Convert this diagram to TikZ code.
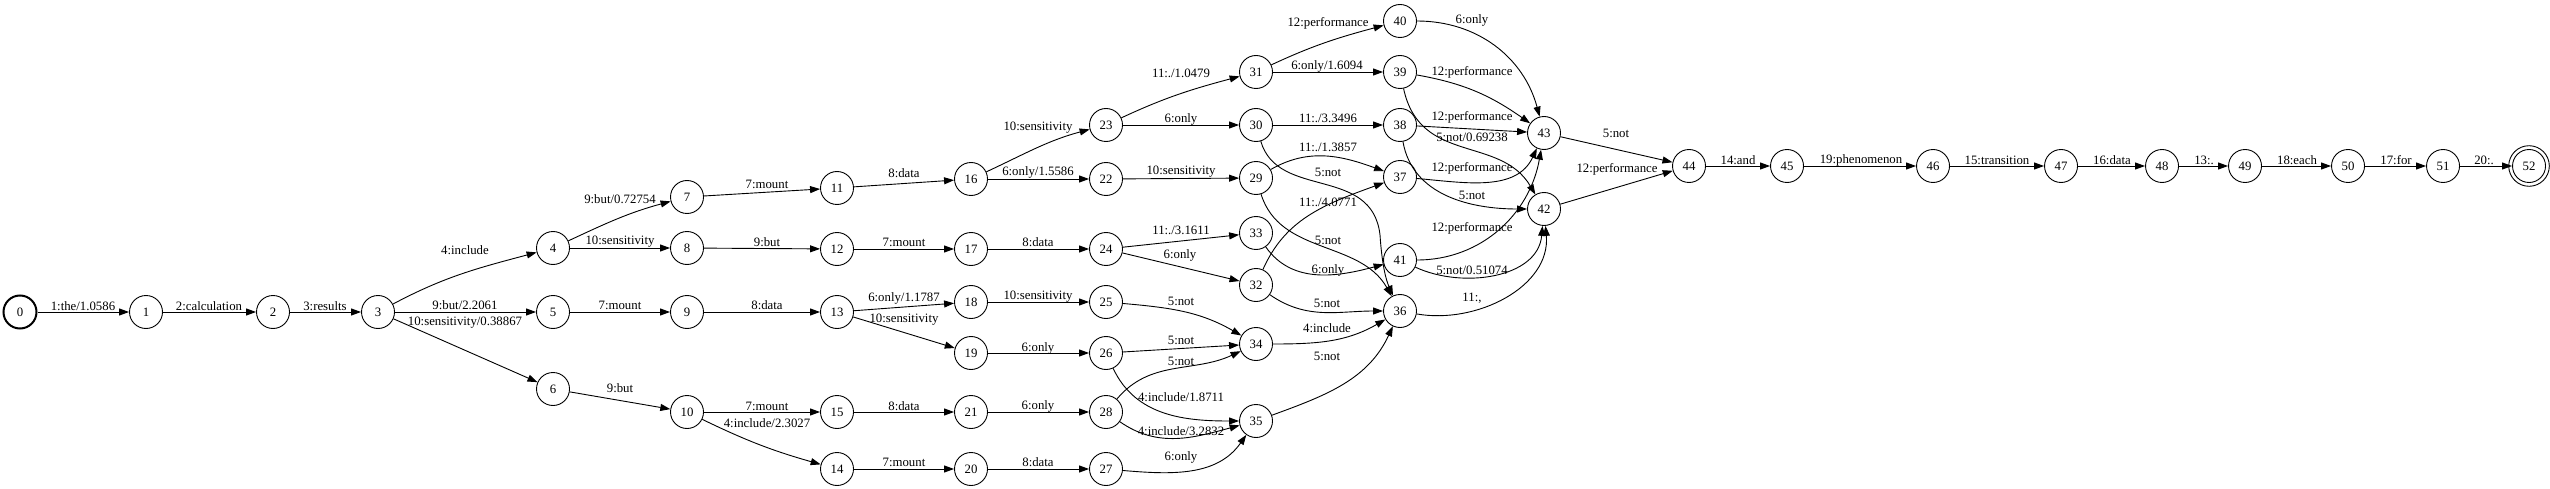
\documentclass[tikz,border=0pt]{standalone}
\usepackage{fontspec}
\setmainfont{Liberation Serif}
\usetikzlibrary{arrows.meta}
\begin{document}
\begin{tikzpicture}[x=1pt,y=-1pt,
 st/.style={circle,draw,line width=0.9pt,minimum size=33pt,inner sep=0pt,font=\fontsize{12.8}{14}\selectfont},
 lbl/.style={inner sep=0pt,font=\fontsize{12.8}{14}\selectfont},
 e/.style={line width=0.9pt,-{Triangle[length=10pt,width=7pt]}}]
\useasboundingbox (0,0) rectangle (2550,489);
% states
\node[st,line width=2pt] (n0) at (20,312) {0};
\foreach \n/\x/\y in {1/146/312,2/273/312,3/378/312,4/553/248,5/553/312,6/553/389,
 7/687/197,8/687/248,9/687/312,10/687/412,11/837/188,12/837/249,13/837/312,14/837/469,15/837/412,
 16/971/179,17/971/249,18/971/302,19/971/353,20/971/469,21/971/412,
 22/1106/179,23/1106/125,24/1106/249,25/1106/302,26/1106/353,27/1106/469,28/1106/412,
 29/1256/178,30/1256/125,31/1256/72,32/1256/285,33/1256/233,34/1256/344,35/1256/421,
 36/1400/311,37/1400/177,38/1400/125,39/1400/72,40/1400/21,41/1400/260,
 42/1544/209,43/1544/133,44/1689/166,45/1787/166,46/1933/166,47/2061/166,48/2162/166,
 49/2245/166,50/2348/166,51/2443/166}
 {\node[st] (n\n) at (\x,\y) {\n};}
\node[st] (n52) at (2529,166) {52};
\draw[line width=0.9pt] (n52.center) circle (20.3);
\coordinate (m30) at (1380,235);
% edges
\draw[e] (n0) -- (n1); \node[lbl] (l1) at (83,306) {1:the/1.0586};
\draw[e] (n1) -- (n2); \node[lbl] (l2) at (209,306) {2:calculation};
\draw[e] (n2) -- (n3); \node[lbl] (l3) at (325,306) {3:results};
\draw[e] (n3) to[out=28,in=195] (n4); \node[lbl] (l4) at (465,250) {4:include};
\draw[e] (n3) -- (n5); \node[lbl] (l5) at (465,305) {9:but/2.2061};
\draw[e] (n3) -- (n6); \node[lbl] (l6) at (465,323) {10:sensitivity/0.38867};
\draw[e] (n4) to[out=25,in=195] (n7); \node[lbl] (l7) at (620,199) {9:but/0.72754};
\draw[e] (n4) -- (n8); \node[lbl] (l8) at (620,242) {10:sensitivity};
\draw[e] (n7) -- (n11); \node[lbl] (l9) at (767,184) {7:mount};
\draw[e] (n8) -- (n12); \node[lbl] (l10) at (767,242) {9:but};
\draw[e] (n5) -- (n9); \node[lbl] (l11) at (620,305) {7:mount};
\draw[e] (n9) -- (n13); \node[lbl] (l12) at (767,305) {8:data};
\draw[e] (n6) -- (n10); \node[lbl] (l13) at (620,388) {9:but};
\draw[e] (n10) -- (n15); \node[lbl] (l14) at (767,406) {7:mount};
\draw[e] (n10) to[bend right=5] (n14); \node[lbl] (l15) at (767,423) {4:include/2.3027};
\draw[e] (n11) -- (n16); \node[lbl] (l16) at (904,173) {8:data};
\draw[e] (n16) to[out=25,in=195] (n23); \node[lbl] (l17) at (1038,128) {10:sensitivity};
\draw[e] (n16) -- (n22); \node[lbl] (l18) at (1038,172) {6:only/1.5586};
\draw[e] (n23) to[out=25,in=195] (n31); \node[lbl] (l19) at (1181,73) {11:./1.0479};
\draw[e] (n23) -- (n30); \node[lbl] (l20) at (1181,119) {6:only};
\draw[e] (n22) -- (n29); \node[lbl] (l21) at (1181,172) {10:sensitivity};
\draw[e] (n12) -- (n17); \node[lbl] (l22) at (904,242) {7:mount};
\draw[e] (n17) -- (n24); \node[lbl] (l23) at (1038,242) {8:data};
\draw[e] (n24) -- (n33); \node[lbl] (l24) at (1181,230) {11:./3.1611};
\draw[e] (n24) -- (n32); \node[lbl] (l25) at (1180,255) {6:only};
\draw[e] (n13) -- (n18); \node[lbl] (l26) at (904,298) {6:only/1.1787};
\draw[e] (n13) -- (n19); \node[lbl] (l27) at (904,320) {10:sensitivity};
\draw[e] (n18) -- (n25); \node[lbl] (l28) at (1038,297) {10:sensitivity};
\draw[e] (n19) -- (n26); \node[lbl] (l29) at (1038,348) {6:only};
\draw[e] (n15) -- (n21); \node[lbl] (l30) at (904,406) {8:data};
\draw[e] (n21) -- (n28); \node[lbl] (l31) at (1038,406) {6:only};
\draw[e] (n14) -- (n20); \node[lbl] (l32) at (904,462) {7:mount};
\draw[e] (n20) -- (n27); \node[lbl] (l33) at (1038,462) {8:data};
\draw[e] (n25) to[out=-5,in=150] (n34); \node[lbl] (l34) at (1181,301) {5:not};
\draw[e] (n26) -- (n34); \node[lbl] (l35) at (1181,340) {5:not};
\draw[e] (n28) to[out=50,in=205] (n34); \node[lbl] (l36) at (1181,361) {5:not};
\draw[e] (n26) to[out=-65,in=180] (n35); \node[lbl] (l37) at (1181,397) {4:include/1.8711};
\draw[e] (n28) to[out=-35,in=195] (n35); \node[lbl] (l38) at (1181,431) {4:include/3.2832};
\draw[e] (n27) to[out=-5,in=235] (n35); \node[lbl] (l39) at (1181,457) {6:only};
\draw[e] (n31) to[out=25,in=195] (n40); \node[lbl] (l40) at (1328,23) {12:performance};
\draw[e] (n31) -- (n39); \node[lbl] (l41) at (1327,66) {6:only/1.6094};
\draw[e] (n30) -- (n38); \node[lbl] (l42) at (1328,118) {11:./3.3496};
\draw[e] (n29) to[out=30,in=160] (n37); \node[lbl] (l43) at (1328,147) {11:./1.3857};
\draw[e] (n30) .. controls (1278,200) and (1372,165) .. (m30) .. controls (1382,265) and (1386,280) .. (n36); \node[lbl] (l44) at (1328,172) {5:not};
\draw[e] (n32) .. controls (1285,220) and (1322,205) .. (n37); \node[lbl] (l45) at (1328,202) {11:./4.0771};
\draw[e] (n29) .. controls (1280,255) and (1360,240) .. (n36); \node[lbl] (l46) at (1328,240) {5:not};
\draw[e] (n33) to[out=-55,in=195] (n41); \node[lbl] (l47) at (1328,270) {6:only};
\draw[e] (n32) to[out=-35,in=180] (n36); \node[lbl] (l48) at (1327,303) {5:not};
\draw[e] (n34) to[out=0,in=210] (n36); \node[lbl] (l49) at (1327,328) {4:include};
\draw[e] (n35) to[out=20,in=245] (n36); \node[lbl] (l50) at (1327,356) {5:not};
\draw[e] (n40) to[out=0,in=105] (n43); \node[lbl] (l51) at (1472,20) {6:only};
\draw[e] (n39) to[out=-10,in=145] (n43); \node[lbl] (l52) at (1472,72) {12:performance};
\draw[e] (n38) -- (n43); \node[lbl] (l53) at (1472,117) {12:performance};
\draw[e] (n39) .. controls (1420,165) and (1500,135) .. (n42); \node[lbl] (l54) at (1472,137) {5:not/0.69238};
\draw[e] (n37) to[out=-5,in=245] (n43); \node[lbl] (l55) at (1472,168) {12:performance};
\draw[e] (n38) to[out=-80,in=180] (n42); \node[lbl] (l56) at (1472,195) {5:not};
\draw[e] (n41) to[out=0,in=260] (n43); \node[lbl] (l57) at (1472,228) {12:performance};
\draw[e] (n41) to[out=-25,in=265] (n42); \node[lbl] (l58) at (1472,270) {5:not/0.51074};
\draw[e] (n36) to[out=-10,in=275] (n42); \node[lbl] (l59) at (1472,298) {11:,};
\draw[e] (n43) -- (n44); \node[lbl] (l60) at (1616,133) {5:not};
\draw[e] (n42) -- (n44); \node[lbl] (l61) at (1617,169) {12:performance};
\draw[e] (n44) -- (n45); \node[lbl] (l62) at (1738,160) {14:and};
\draw[e] (n45) -- (n46); \node[lbl] (l63) at (1861,160) {19:phenomenon};
\draw[e] (n46) -- (n47); \node[lbl] (l64) at (1997,160) {15:transition};
\draw[e] (n47) -- (n48); \node[lbl] (l65) at (2112,160) {16:data};
\draw[e] (n48) -- (n49); \node[lbl] (l66) at (2204,160) {13:.};
\draw[e] (n49) -- (n50); \node[lbl] (l67) at (2297,160) {18:each};
\draw[e] (n50) -- (n51); \node[lbl] (l68) at (2396,160) {17:for};
\draw[e] (n51) -- (n52.west); \node[lbl] (l69) at (2484,160) {20:.};
\end{tikzpicture}
\end{document}
